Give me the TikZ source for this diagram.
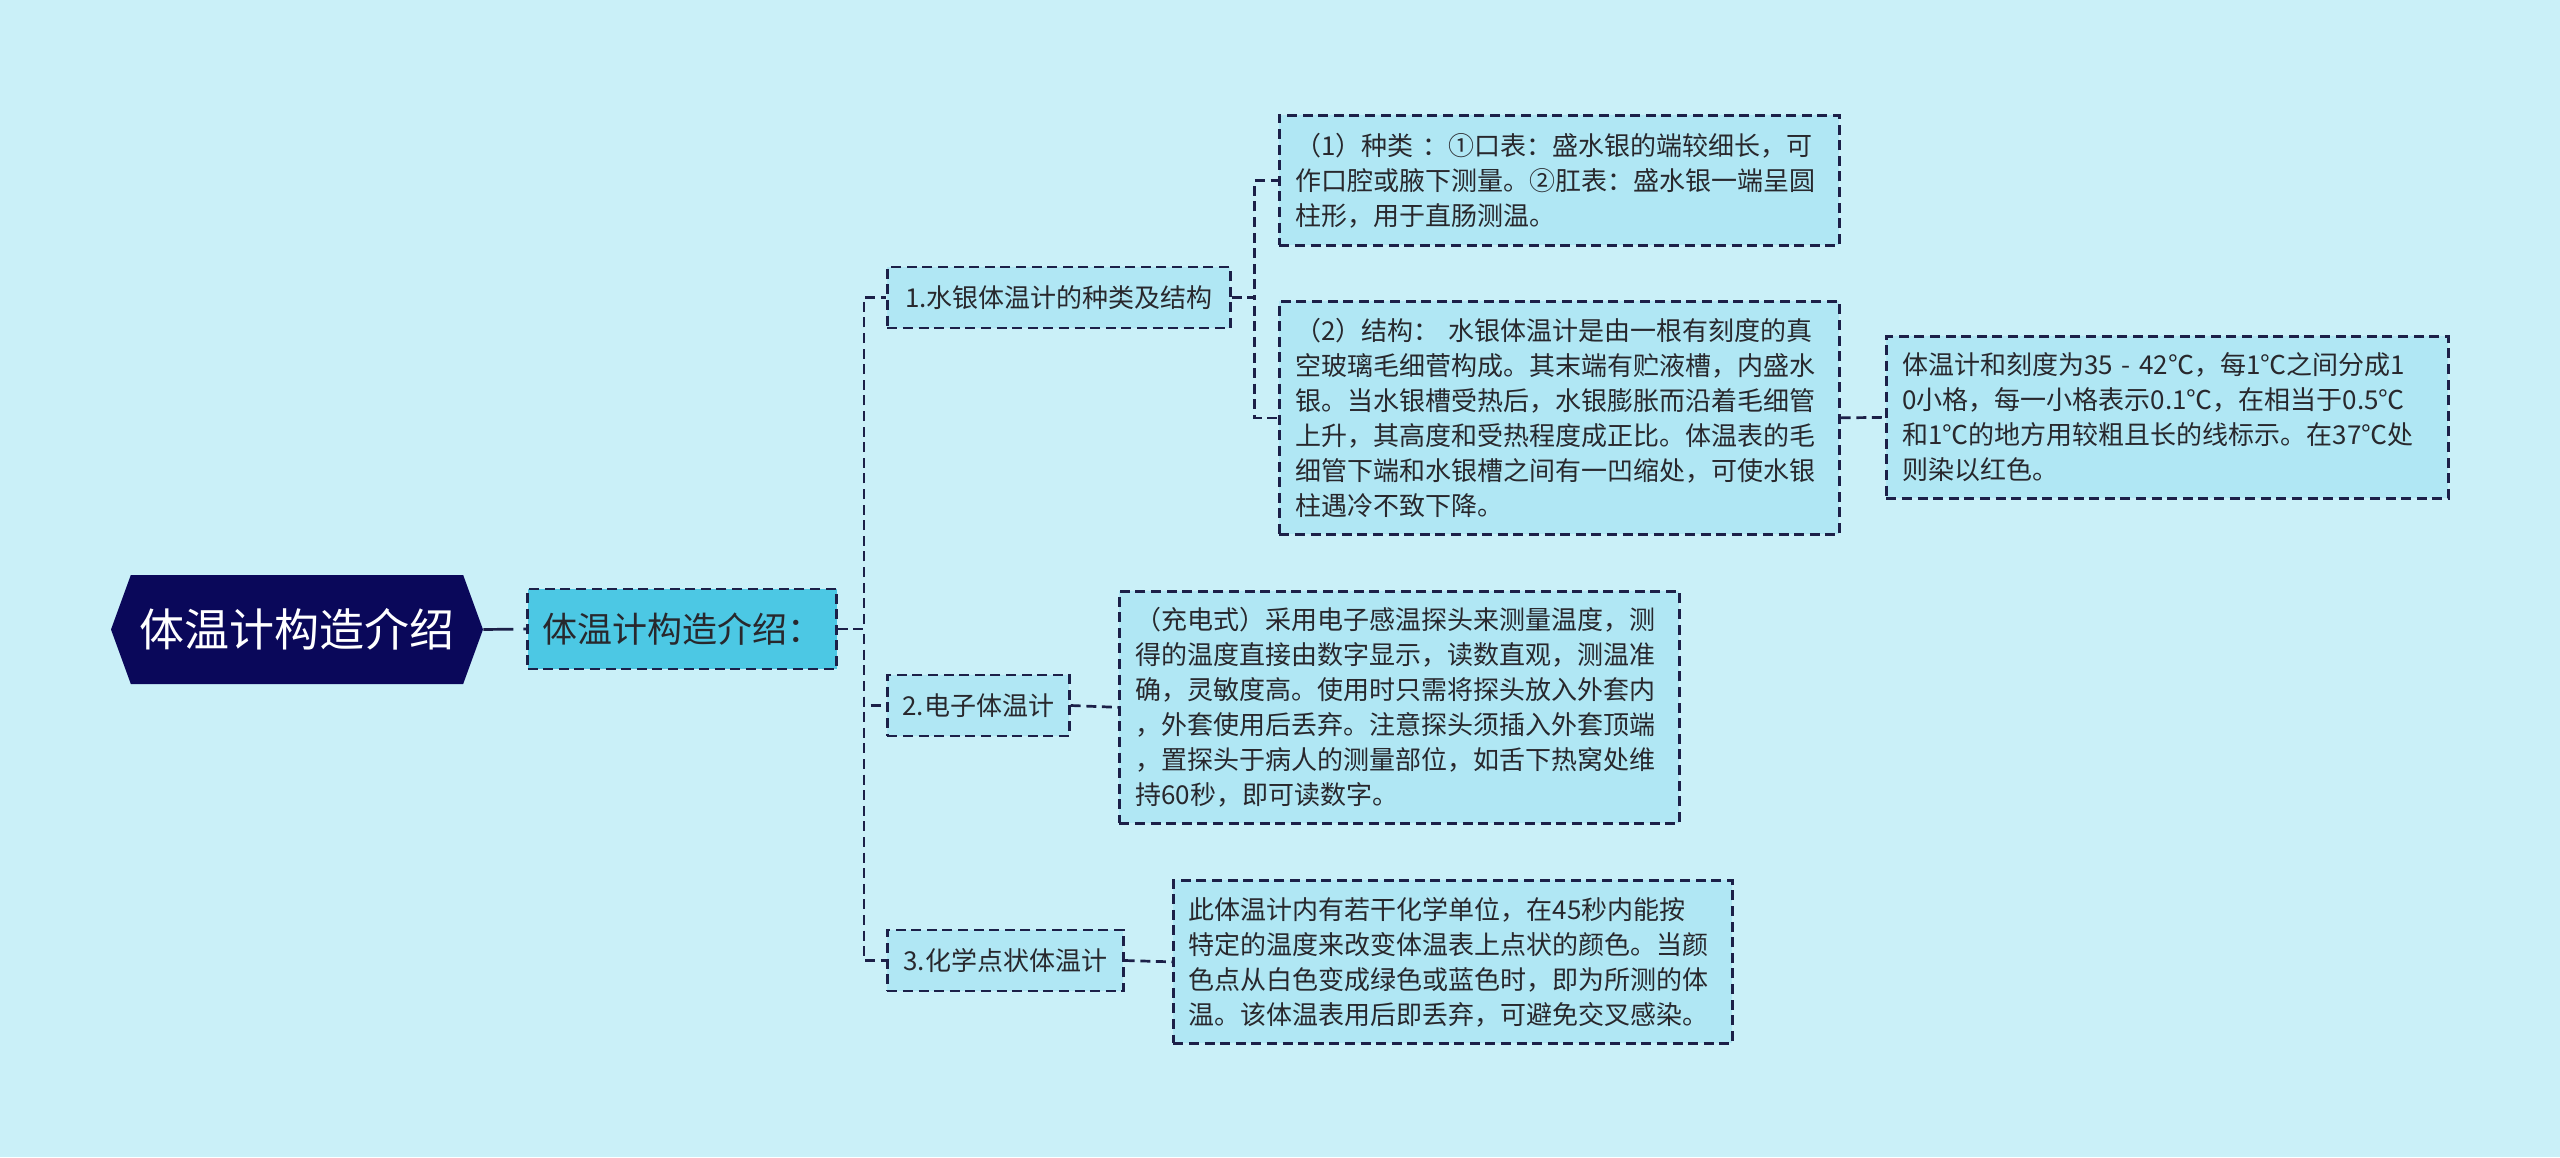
\documentclass[tikz,border=0pt]{standalone}
\usepackage{fontspec}
\newfontfamily\cjk{Noto Sans CJK SC}
\usetikzlibrary{shapes.symbols}
\definecolor{bgc}{RGB}{202,240,248}
\definecolor{boxfill}{RGB}{176,231,244}
\definecolor{lonefill}{RGB}{76,200,228}
\definecolor{rootfill}{RGB}{10,8,90}
\definecolor{edgec}{RGB}{28,32,72}
\definecolor{txtc}{RGB}{40,40,45}
\tikzset{
  x=0.5pt, y=-0.5pt,
  dline/.style={draw=edgec, line width=1.35pt, dash pattern=on 5pt off 2.8pt},
  conn/.style={draw=edgec, line width=1.35pt, dash pattern=on 5pt off 2.8pt},
  rootnode/.style={shape=signal, signal to=west and east, signal pointer angle=140,
    fill=rootfill, text=white, font=\cjk\fontsize{22.5pt}{27pt}\selectfont,
    minimum width=186pt, minimum height=54.5pt, inner sep=0pt},
  lonenode/.style={dline, fill=lonefill, text=txtc, font=\cjk\fontsize{17.5pt}{21pt}\selectfont,
    minimum height=40pt, inner sep=0pt, align=center},
  ltwonode/.style={dline, fill=boxfill, text=txtc, font=\cjk\fontsize{13pt}{17.5pt}\selectfont,
    minimum height=30.5pt, inner sep=0pt, align=center},
  detail/.style={dline, fill=boxfill, text=txtc, font=\cjk\fontsize{13pt}{17.5pt}\selectfont,
    inner xsep=0pt, inner ysep=0pt, align=left},
}
\begin{document}
\begin{tikzpicture}
\fill[bgc] (0,0) rectangle (2560,1157);
\useasboundingbox (0,0) rectangle (2560,1157);

\node[rootnode] (root) at (297,629.5) {体温计构造介绍};
\node[lonenode, minimum width=154.5pt] (n0) at (682,629) {体温计构造介绍：};

\node[ltwonode, minimum width=171.5pt, anchor=west] (n1) at (886,297.5) {1.水银体温计的种类及结构};
\node[ltwonode, minimum width=91pt, anchor=west] (n2) at (886,705.5) {2.电子体温计};
\node[ltwonode, minimum width=118pt, anchor=west] (n3) at (886,960.5) {3.化学点状体温计};

\node[detail, minimum width=280pt, minimum height=65pt, text width=264pt, anchor=north west] (d1) at (1278,114)
  {（1）种类 ：①口表：盛水银的端较细长，可\\作口腔或腋下测量。②肛表：盛水银一端呈圆\\柱形，用于直肠测温。};
\node[detail, minimum width=280pt, minimum height=116.5pt, text width=264pt, anchor=north west] (d2) at (1278,300)
  {（2）结构： 水银体温计是由一根有刻度的真\\空玻璃毛细菅构成。其末端有贮液槽，内盛水\\银。当水银槽受热后，水银膨胀而沿着毛细管\\上升，其高度和受热程度成正比。体温表的毛\\细管下端和水银槽之间有一凹缩处，可使水银\\柱遇冷不致下降。};
\node[detail, minimum width=281pt, minimum height=81pt, text width=265pt, anchor=north west] (d3) at (1885,335)
  {体温计和刻度为35 - 42℃，每1℃之间分成1\\0小格，每一小格表示0.1℃，在相当于0.5℃\\和1℃的地方用较粗且长的线标示。在37℃处\\则染以红色。};
\node[detail, minimum width=280pt, minimum height=116pt, text width=264pt, anchor=north west] (d4) at (1118,590)
  {（充电式）采用电子感温探头来测量温度，测\\得的温度直接由数字显示，读数直观，测温准\\确，灵敏度高。使用时只需将探头放入外套内\\，外套使用后丢弃。注意探头须插入外套顶端\\，置探头于病人的测量部位，如舌下热窝处维\\持60秒，即可读数字。};
\node[detail, minimum width=279.5pt, minimum height=81.5pt, text width=264pt, anchor=north west] (d5) at (1172,879)
  {此体温计内有若干化学单位，在45秒内能按\\特定的温度来改变体温表上点状的颜色。当颜\\色点从白色变成绿色或蓝色时，即为所测的体\\温。该体温表用后即丢弃，可避免交叉感染。};

\draw[conn, dash pattern=on 15pt off 5pt on 2pt off 20pt] (root.east) -- (n0.west);
\draw[conn] (n0.east) -- ++(26,0) |- (n1.west);
\draw[conn] (n0.east) -- ++(26,0) |- (n2.west);
\draw[conn] (n0.east) -- ++(26,0) |- (n3.west);
\draw[conn] (n1.east) -- ++(23,0) |- (d1.west);
\draw[conn] (n1.east) -- ++(23,0) |- (d2.west);
\draw[conn] (d2.east) -- (d3.west);
\draw[conn] (n2.east) -- (d4.west);
\draw[conn] (n3.east) -- (d5.west);
\end{tikzpicture}
\end{document}
